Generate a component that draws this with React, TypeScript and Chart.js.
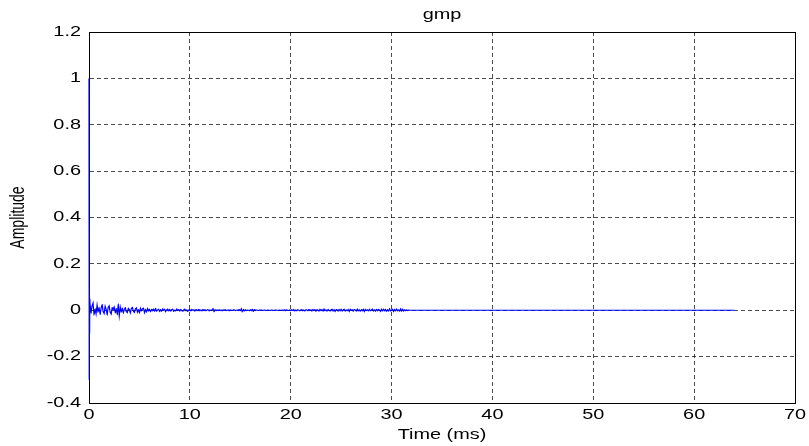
import { useEffect, useRef } from "react";
import { Chart, registerables } from "chart.js";

Chart.register(...registerables);

// Impulse at the start of the response (time in ms, amplitude)
const impulseTimeMs = [0, 0.02, 0.04, 0.06, 0.08];
const impulseAmplitude = [1.0, -0.3, 0.09, -0.1, 0.05];

// Residual noise after the impulse, one sample every 0.1 ms from 0.1 ms to 32 ms
const noiseStartMs = 0.1;
const noiseStepMs = 0.1;
const noiseAmplitude = [
  0.028, -0.012, 0.018, 0.031, -0.02, 0.006, -0.016, 0.022, -0.008, 0.014,
  -0.018, 0.009, 0.024, -0.006, -0.014, 0.017, 0.004, -0.021, 0.012, 0.019,
  -0.009, -0.016, 0.011, 0.003, 0.015, -0.012, 0.007, -0.019, 0.026, -0.024,
  0.013, -0.007, 0.009, -0.013, 0.004, 0.011, -0.006, -0.01, 0.008, 0.002,
  -0.011, 0.007, 0.012, -0.004, -0.009, 0.006, 0.01, -0.008, 0.003, -0.012,
  0.008, -0.003, 0.006, 0.009, -0.01, 0.002, -0.006, 0.007, -0.002, 0.005,
  -0.007, 0.004, -0.002, 0.006, -0.005, 0.008, -0.004, 0.001, 0.005, -0.006,
  0.003, -0.005, 0.006, -0.001, 0.004, -0.007, 0.002, 0.005, -0.003, 0.004,
  -0.004, 0.002, 0.005, -0.005, 0.001, -0.003, 0.006, -0.002, 0.003, -0.004,
  0.004, -0.002, -0.004, 0.003, 0.005, -0.003, 0.001, -0.005, 0.002, 0.003,
  -0.003, 0.004, -0.001, 0.002, -0.004, 0.003, 0.001, -0.002, 0.004, -0.003,
  0.002, -0.003, 0.003, -0.001, 0.002, -0.002, 0.001, 0.003, -0.003, 0.001,
  -0.001, 0.002, 0.007, -0.006, 0.003, -0.002, 0.001, -0.001, 0.002, -0.001,
  0.001, -0.002, 0.001, 0, 0.002, -0.001, 0, 0.001, -0.002, 0.001,
  0, -0.001, 0.001, 0.002, -0.001, 0, 0.001, -0.001, 0.003, -0.002,
  0.006, -0.007, 0.004, -0.003, 0.002, -0.001, 0.001, 0, -0.001, 0.002,
  -0.002, 0.004, -0.005, 0.003, -0.001, 0.001, 0, -0.001, 0.001, 0,
  0.001, -0.001, 0, 0.001, 0, -0.001, 0.001, 0, 0, -0.001,
  0.001, 0, -0.001, 0, 0.001, 0, 0, -0.001, 0.001, 0,
  0, 0.001, -0.001, 0.002, -0.002, 0.001, 0, -0.001, 0.001, -0.001,
  0.002, -0.001, 0.003, -0.003, 0.001, -0.002, 0.002, 0, -0.002, 0.001,
  0.003, -0.002, 0.001, -0.003, 0.002, 0.001, -0.002, 0.003, -0.001, 0.002,
  -0.003, 0.004, -0.002, 0.003, -0.004, 0.002, 0.001, -0.003, 0.004, -0.002,
  0.003, -0.004, 0.005, -0.002, 0.001, -0.003, 0.004, -0.001, -0.003, 0.002,
  0.004, -0.003, 0.002, -0.005, 0.003, 0.002, -0.004, 0.003, -0.002, 0.004,
  -0.003, 0.002, 0.004, -0.004, 0.001, -0.002, 0.003, -0.005, 0.004, -0.001,
  0.002, -0.004, 0.003, 0.001, -0.003, 0.005, -0.002, 0.002, -0.004, 0.003,
  -0.002, 0.004, -0.005, 0.003, -0.001, 0.002, -0.003, 0.004, -0.002, 0.001,
  0.005, -0.003, 0.002, -0.004, 0.004, -0.002, 0.003, 0.001, -0.005, 0.004,
  -0.003, 0.005, -0.002, 0.003, -0.004, 0.002, -0.003, 0.006, -0.004, 0.002,
  0.004, -0.005, 0.003, -0.002, 0.005, -0.003, 0.002, -0.004, 0.006, -0.003,
  0.004, -0.003, 0.002, -0.002, 0.001, -0.001, 0.001, 0, 0, 0,
];

// Flat tail up to the end of the response
const tailTimeMs = [64];
const tailAmplitude = [0];

const xMin = 0;
const xMax = 70;
const xStep = 10;
const yMin = -0.4;
const yMax = 1.2;
const yStep = 0.2;

const titleText = "gmp";
const xLabel = "Time (ms)";
const yLabel = "Amplitude";

const FONT = "'Liberation Sans', Arial, Helvetica, sans-serif";
const TEXT_STRETCH = 1.42;

// The reference text is horizontally stretched; widen glyphs around their anchor.
const stretchPlugin = {
  id: "stretchText",
  beforeInit(chart: any) {
    const ctx = chart.ctx;
    const orig = ctx.fillText.bind(ctx);
    ctx.fillText = function (text: string, x: number, y: number, maxWidth?: number) {
      const m = ctx.getTransform();
      const px = m.a * x + m.c * y + m.e;
      const py = m.b * x + m.d * y + m.f;
      ctx.save();
      ctx.setTransform(1, 0, 0, 1, 0, 0);
      ctx.translate(px, py);
      ctx.scale(TEXT_STRETCH, 1);
      ctx.translate(-px, -py);
      ctx.transform(m.a, m.b, m.c, m.d, m.e, m.f);
      if (maxWidth !== undefined) orig(text, x, y, maxWidth);
      else orig(text, x, y);
      ctx.restore();
    };
  },
};

const boxPlugin = {
  id: "boxPlugin",
  beforeDatasetsDraw(chart: any) {
    const { ctx, chartArea } = chart;
    ctx.save();
    ctx.strokeStyle = "#000";
    ctx.lineWidth = 1;
    ctx.setLineDash([]);
    ctx.strokeRect(
      Math.round(chartArea.left) + 0.5,
      Math.round(chartArea.top) + 0.5,
      Math.round(chartArea.right - chartArea.left),
      Math.round(chartArea.bottom - chartArea.top)
    );
    ctx.restore();
  },
};

export default function App() {
  const ref = useRef<HTMLCanvasElement>(null);

  useEffect(() => {
    if (!ref.current) return;
    const points: { x: number; y: number }[] = [];
    impulseTimeMs.forEach((t, i) => points.push({ x: t, y: impulseAmplitude[i] }));
    noiseAmplitude.forEach((v, i) =>
      points.push({ x: noiseStartMs + i * noiseStepMs, y: v })
    );
    tailTimeMs.forEach((t, i) => points.push({ x: t, y: tailAmplitude[i] }));

    const gridColor = "rgba(0,0,0,0.7)";

    const chart = new Chart(ref.current, {
      type: "line",
      data: {
        datasets: [
          {
            data: points,
            borderColor: "#0000ff",
            borderWidth: 1.2,
            pointRadius: 0,
            tension: 0.00001,
            fill: false,
            clip: false as any,
          },
        ],
      },
      options: {
        responsive: false,
        animation: false,
        parsing: false as any,
        layout: { padding: { left: 0, right: 14, top: 0, bottom: 0 } },
        plugins: {
          legend: { display: false },
          tooltip: { enabled: false },
          title: {
            display: true,
            text: titleText,
            color: "#000",
            fullSize: false,
            font: { family: FONT, size: 14, weight: "normal" as any },
            padding: { top: 7, bottom: 8.2 },
          },
        },
        scales: {
          x: {
            type: "linear",
            min: xMin,
            max: xMax,
            ticks: {
              stepSize: xStep,
              color: "#000",
              font: { family: FONT, size: 14 },
              padding: 4,
              maxRotation: 0,
              autoSkip: false,
            },
            grid: { color: gridColor, lineWidth: 1, drawTicks: false },
            border: { display: true, color: "#000", dash: [4, 3] },
            title: {
              display: true,
              text: xLabel,
              color: "#000",
              font: { family: FONT, size: 14 },
              padding: { top: 2, bottom: 2 },
            },
            afterFit: (s: any) => {
              s.height = 43;
            },
          },
          y: {
            type: "linear",
            min: yMin,
            max: yMax,
            ticks: {
              stepSize: yStep,
              color: "#000",
              font: { family: FONT, size: 14 },
              padding: 8,
              callback: (v: any) => String(Math.round(Number(v) * 10) / 10),
            },
            grid: { color: gridColor, lineWidth: 1, drawTicks: false },
            border: { display: true, color: "#000", dash: [4, 3] },
            title: {
              display: true,
              text: yLabel,
              color: "#000",
              font: { family: FONT, size: 14 },
              padding: { top: 10, bottom: 4 },
            },
            afterFit: (s: any) => {
              s.width = 89;
            },
          },
        },
      },
      plugins: [stretchPlugin, boxPlugin],
    });
    return () => chart.destroy();
  }, []);

  return (
    <div style={{ position: "fixed", left: 0, top: 0, width: 809, height: 446, background: "#fff" }}>
      <canvas ref={ref} width={809} height={446} />
    </div>
  );
}
